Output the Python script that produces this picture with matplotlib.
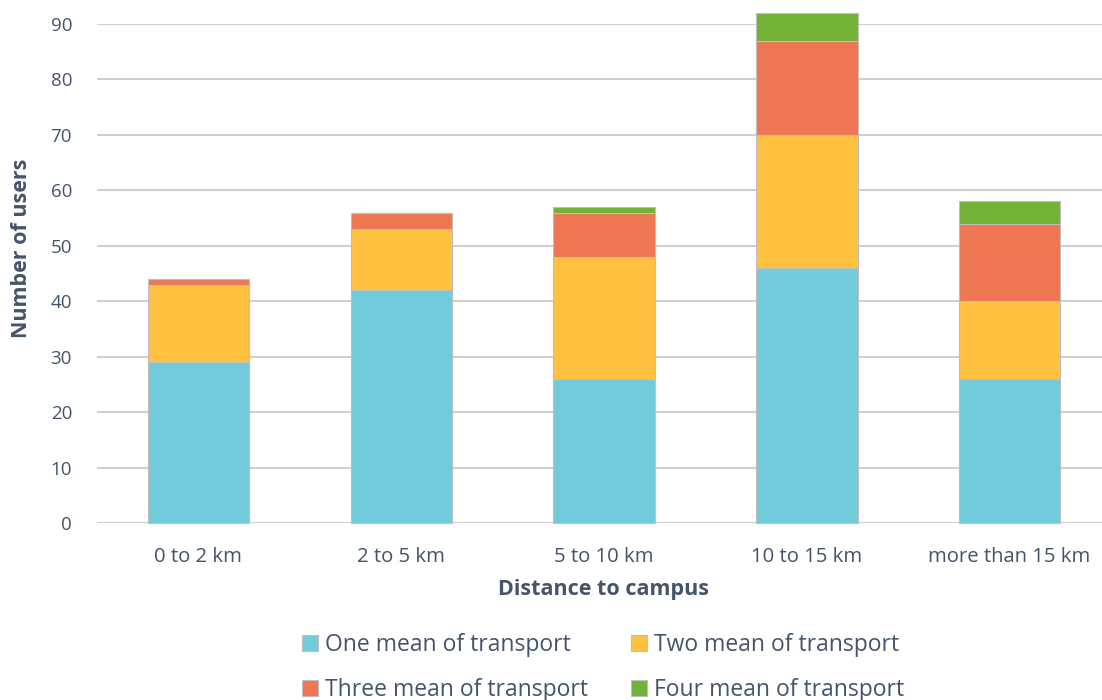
import matplotlib
matplotlib.use("Agg")
import matplotlib.pyplot as plt
import numpy as np

categories = ["0 to 2 km", "2 to 5 km", "5 to 10 km", "10 to 15 km", "more than 15 km"]
one_mean = [29, 42, 26, 46, 26]
two_mean = [14, 11, 22, 24, 14]
three_mean = [1, 3, 8, 17, 14]
four_mean = [0, 0, 1, 5, 4]

series = [
    ("One mean of transport", one_mean, "#72CBDB"),
    ("Two mean of transport", two_mean, "#FFC13F"),
    ("Three mean of transport", three_mean, "#EE7653"),
    ("Four mean of transport", four_mean, "#73B237"),
]

text_color = "#44546A"
plt.rcParams["font.family"] = ["Open Sans", "DejaVu Sans"]

fig = plt.figure(figsize=(11.02, 7.0), dpi=100)
ax = fig.add_axes([97 / 1102, 177 / 700, 1014 / 1102, 499 / 700])

x = np.arange(len(categories))
bottom = np.zeros(len(categories))
handles = []
for name, vals, color in series:
    vals = np.array(vals, dtype=float)
    b = ax.bar(x, vals, width=0.5, bottom=bottom, color=color,
               edgecolor="#BFBFBF", linewidth=0.8, label=name, zorder=3,
               clip_on=False)
    handles.append(b)
    bottom += vals

ax.set_xlim(-0.5, len(categories) - 0.5)
ax.set_ylim(0, 90)
ax.set_yticks(np.arange(0, 91, 10))
ax.yaxis.grid(True, color="#D0D0D0", linewidth=1.5, zorder=0)
ax.set_axisbelow(True)
for s in ax.spines.values():
    s.set_visible(False)
ax.tick_params(axis="both", length=0, colors=text_color)
ax.tick_params(axis="y", pad=18, labelsize=13.5)
ax.tick_params(axis="x", pad=17, labelsize=14.6)
ax.set_xticks(x)
ax.set_xticklabels(categories)

fig.text(22 / 1102, 1 - 248 / 700, "Number of users", rotation=90,
         ha="center", va="center", fontsize=15.5, fontweight="bold", color=text_color)
fig.text(604 / 1102, 1 - 590 / 700, "Distance to campus",
         ha="center", va="center", fontsize=15.5, fontweight="bold", color=text_color)

# legend fills column-wise, so order entries to read row by row
order = [0, 2, 1, 3]
leg = fig.legend(handles=[handles[i] for i in order],
                 labels=[series[i][0] for i in order], ncol=2,
                 loc="upper left", bbox_to_anchor=(281 / 1102, 1 - 612 / 700),
                 frameon=False, fontsize=16.5, handlelength=0.7, handleheight=0.7,
                 handletextpad=0.3, columnspacing=1.9, labelspacing=0.95,
                 labelcolor=text_color)

fig.savefig("out.png", dpi=100)
